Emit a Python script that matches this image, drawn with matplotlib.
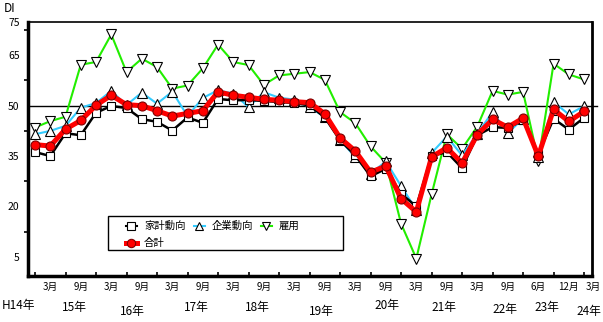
import numpy as np
import matplotlib
matplotlib.use("Agg")
import matplotlib.pyplot as plt
from matplotlib.lines import Line2D
from matplotlib.patches import Rectangle

plt.rcParams['font.family'] = ['Noto Sans CJK JP', 'DejaVu Sans']

# quarterly survey, H14/12 .. H24/3 (37 points)
kakei = [36.2, 35.0, 41.8, 41.2, 47.9, 49.9, 49.3, 46.0, 45.2, 42.6, 46.5, 44.9,
         52.0, 51.6, 51.7, 51.4, 51.1, 50.8, 50.1, 46.5, 39.7, 35.2, 29.0, 31.2,
         23.8, 20.0, 35.0, 36.2, 31.4, 41.2, 43.6, 43.4, 45.6, 35.6, 46.1, 42.9, 46.4]
kigyo = [41.5, 42.5, 44.0, 49.4, 50.8, 54.4, 50.2, 53.9, 50.6, 54.2, 46.9, 52.3,
         54.6, 53.6, 49.6, 54.0, 52.4, 51.8, 49.6, 46.6, 39.8, 34.7, 29.8, 33.4,
         26.1, 19.0, 35.9, 40.8, 35.2, 41.7, 48.1, 41.9, 46.1, 34.7, 51.1, 47.4, 49.9]
koyo = [43.5, 45.4, 46.7, 62.2, 63.0, 71.2, 60.0, 64.0, 61.5, 55.1, 56.0, 61.1,
        68.2, 63.0, 62.1, 56.2, 59.0, 59.5, 60.0, 57.7, 48.1, 44.8, 37.9, 33.0,
        14.9, 4.5, 23.6, 41.5, 37.2, 43.8, 54.4, 53.3, 54.1, 33.6, 62.5, 59.3, 57.8]
goukei = [38.4, 38.0, 43.0, 45.6, 50.1, 53.1, 50.3, 50.0, 48.5, 46.9, 47.7, 48.5,
          54.1, 53.1, 52.5, 51.9, 51.6, 51.2, 50.9, 47.6, 40.4, 36.5, 30.2, 32.0,
          22.3, 18.4, 34.7, 37.5, 32.9, 41.4, 45.9, 43.6, 46.3, 35.0, 48.9, 45.3, 48.3]

month_idx = [1, 3, 5, 7, 9, 11, 13, 15, 17, 19, 21, 23, 25, 27, 29, 31, 33, 35]
month_lbl = ['3月', '9月', '3月', '9月', '3月', '9月', '3月', '9月', '3月', '9月',
             '3月', '9月', '3月', '9月', '3月', '9月', '6月', '12月']
last_month = '3月'
year_lbl = ['H14年', '15年', '16年', '17年', '18年', '19年', '20年', '21年', '22年', '23年', '24年']
year_pos = [-1.1, 2.6, 6.4, 10.6, 14.6, 18.8, 23.1, 26.8, 30.8, 33.6, 36.3]
year_y = [306, 308, 311, 307, 308, 311, 306, 308, 309, 308, 311]   # pixel rows

ytick_lbl = [5, 20, 35, 50, 65, 75]
ytick_minor = [12.5, 27.5, 42.5, 57.5, 72.5]

W, H = 603, 322
fig = plt.figure(figsize=(W / 100, H / 100), dpi=100)
ax = fig.add_axes([28 / W, 1 - 276 / H, (591.7 - 28) / W, 254.3 / H])

x = np.arange(len(kakei))
GREEN, CYAN, RED = '#22ee00', '#33ccff', '#ff0000'

ax.plot(x, koyo, '-', color=GREEN, lw=1.5, marker='v', ms=7, mfc='white',
        mec='black', mew=0.8, zorder=3)
ax.plot(x, kigyo, '-', color=CYAN, lw=1.5, marker='^', ms=7, mfc='white',
        mec='black', mew=0.8, zorder=4)
ax.plot(x, kakei, '-', color='black', lw=1.8, marker='s', ms=6, mfc='white',
        mec='black', mew=0.8, zorder=5)
ax.plot(x, goukei, '-', color=RED, lw=3.6, marker='o', ms=6.5, mfc=RED,
        mec='#800000', mew=0.8, zorder=6)

ax.axhline(50, xmin=0, xmax=1.009, color='black', lw=1, clip_on=False, zorder=2)

ax.set_xlim(-0.46, 36.5)
ax.set_ylim(-0.7, 75)

ax.set_yticks(ytick_lbl)
ax.set_yticklabels([str(v) for v in ytick_lbl], fontsize=7.5)
ax.set_yticks(ytick_minor, minor=True)
ax.tick_params(axis='y', which='major', length=0, pad=6)
ax.tick_params(axis='y', which='minor', length=3, width=1.2, direction='out')

ax.set_xticks(month_idx)
ax.set_xticklabels(month_lbl, fontsize=7)
ax.set_xticks(x, minor=True)
ax.tick_params(axis='x', which='major', length=0, pad=4.5)
ax.tick_params(axis='x', which='minor', length=3, width=1.2, direction='in')
# last month label sits just past the final point, at the right edge
ax.annotate(last_month, xy=(36.6, 0), xycoords=('data', 'axes fraction'),
            xytext=(0, -4.5), textcoords='offset points', fontsize=7,
            ha='center', va='top', annotation_clip=False)

for lbl, px, py in zip(year_lbl, year_pos, year_y):
    fx = (35 + 15.25 * px) / W
    fig.text(fx, 1 - py / H, lbl, fontsize=8.5, ha='center', va='center')

for side, lw in (('left', 2.5), ('bottom', 2.5), ('top', 1.2), ('right', 2.0)):
    ax.spines[side].set_linewidth(lw)

fig.text(10 / W, 1 - 8 / H, 'DI', fontsize=8.5, ha='center', va='center')

# legend, drawn by hand in pixel positions
def fp(px, py):
    return px / W, 1 - py / H

box = Rectangle(fp(108, 250), 235 / W, 34 / H, transform=fig.transFigure,
                facecolor='white', edgecolor='black', lw=1, zorder=10)
fig.add_artist(box)
items = [(131, 226, 'black', 's', 'white', '家計動向'),
         (199, 226, CYAN, '^', 'white', '企業動向'),
         (266, 226, GREEN, 'v', 'white', '雇用'),
         (131, 243, RED, 'o', RED, '合計')]
for mx, my, col, mk, fc, txt in items:
    x0, y0 = fp(mx - 5, my)
    x1, _ = fp(mx + 6, my)
    lw = 3.6 if col == RED else 1.5
    fig.add_artist(Line2D([x0, x1], [y0, y0], transform=fig.transFigure, color=col,
                          lw=lw, zorder=11))
    xm, ym = fp(mx, my)
    mec = '#800000' if col == RED else 'black'
    fig.add_artist(Line2D([xm], [ym], transform=fig.transFigure, marker=mk, ms=6,
                          mfc=fc, mec=mec, mew=0.8, zorder=12))
    tx, ty = fp(mx + 13, my)
    fig.text(tx, ty, txt, fontsize=7.5, ha='left', va='center', zorder=12)

fig.savefig('out.png', dpi=100)
